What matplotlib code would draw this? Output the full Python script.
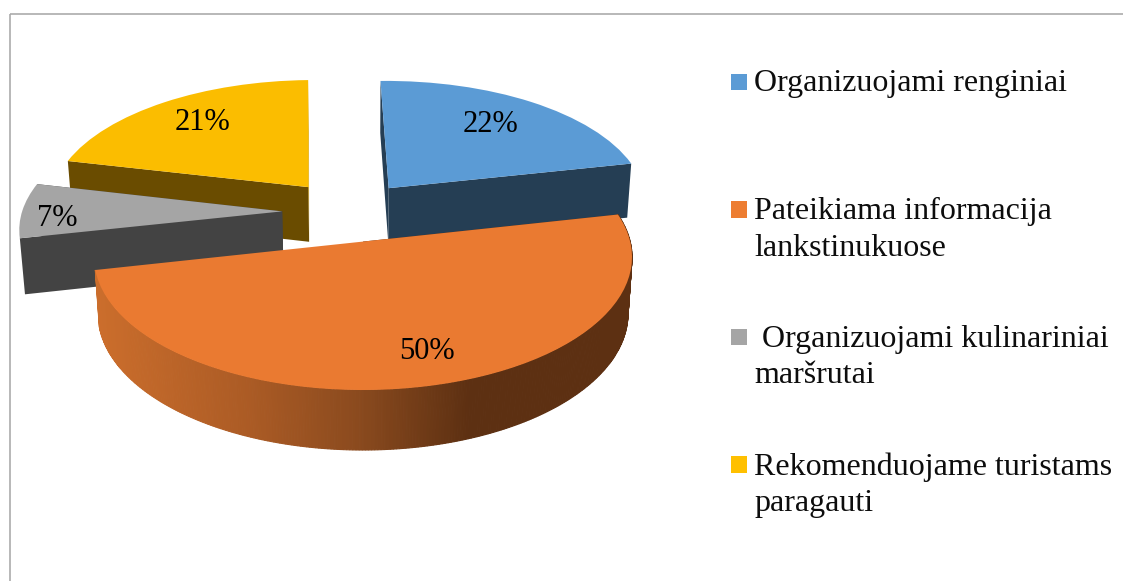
import numpy as np
import matplotlib
matplotlib.use("Agg")
import matplotlib.pyplot as plt
from matplotlib.patches import Polygon, Rectangle
from matplotlib.transforms import Affine2D, Transform
from matplotlib.colors import to_rgb

plt.rcParams['font.family'] = ['Liberation Serif', 'DejaVu Serif']

categories = ["Organizuojami renginiai",
              "Pateikiama informacija\nlankstinukuose",
              " Organizuojami kulinariniai\nmaršrutai",
              "Rekomenduojame turistams\nparagauti"]
shares = [22, 50, 7, 21]

top_colors = ['#5b9bd5', '#ea7a31', '#a5a5a5', '#fbbd00']
wall_colors = ['#253e54', '#5d3012', '#434343', '#6a4c00']
back_colors = ['#253e54', '#5d3012', '#434343', '#d9a400']
legend_colors = ['#5b9bd5', '#ed7d31', '#a5a5a5', '#ffc000']

# ellipse of the orange slice on the picture, and how far the disc is tipped
CX, CY, RX, RY = 363.0, 257.0, 269.0, 133.0
TILT = 0.116
explode = [0.245, 0.24, 0.26, 0.26]
START = 91.4
pct_dist = [0.734, 0.776, 0.86, 0.76]
pct_turn = [2.0, 4.2, 2.5, -2.0]
LABEL_DROP = 3
draw_order = [3, 0, 2, 1]

# orange side shading, left to right
shade_x = [94, 250, 360, 470, 632]
shade_c = ['#cc6e2c', '#ab5b25', '#8a4a1e', '#5d3012', '#5d3012']


def plane_to_px(pts, shift):
    pts = np.asarray(pts, dtype=float) - shift
    den = 1 + TILT * pts[:, 1]
    u = pts[:, 0] * np.sqrt(1 - TILT ** 2) / den
    v = (pts[:, 1] + TILT) / den
    return np.column_stack([CX + RX * u, CY - RY * v])


def drop(px):
    # top face to bottom face: straight down, a bit more near the viewer
    out = px.copy()
    out[:, 0] = CX + (px[:, 0] - CX) * 0.985
    out[:, 1] = px[:, 1] + 54 + (px[:, 1] - 161) * 0.0262
    return out


class PlaneToPx(Transform):
    input_dims = 2
    output_dims = 2
    is_separable = False
    has_inverse = False

    def __init__(self, shift):
        super().__init__()
        self.shift = shift

    def transform_non_affine(self, values):
        return plane_to_px(values, self.shift)


def arc_points(w, n=300):
    t = np.radians(np.linspace(w.theta1, w.theta2, n))
    return np.column_stack([w.center[0] + w.r * np.cos(t), w.center[1] + w.r * np.sin(t)])


def side(a, b):
    return np.vstack([a, drop(b)[::-1]])


def main():
    fig = plt.figure(figsize=(11.23, 5.81), dpi=100)
    ax = fig.add_axes([0, 0, 1, 1])
    wedges, _, autotexts = ax.pie(shares, explode=explode, startangle=START,
                                  counterclock=False, colors=top_colors,
                                  autopct=lambda p: '%d%%' % round(p),
                                  wedgeprops={'linewidth': 0},
                                  textprops={'fontsize': 22})
    ax.set_aspect('auto')
    ax.set_xlim(0, 1123)
    ax.set_ylim(581, 0)
    ax.axis('off')

    shift = np.array(wedges[1].center)
    to_px = PlaneToPx(shift)

    for z, i in enumerate(draw_order):
        w = wedges[i]
        base = 2 + 2 * z
        c = np.array(w.center)
        arc = plane_to_px(arc_points(w), shift)
        apex = plane_to_px(c[None, :], shift)
        # the cut faces run from the apex to each end of the arc, far one first
        ends = sorted([arc[-1:], arc[:1]], key=lambda e: e[0, 1])
        far = np.vstack([apex, ends[0]])
        near = np.vstack([apex, ends[1]])
        ax.add_patch(Polygon(side(far, far), fc=back_colors[i], ec='none', zorder=base))
        if i == 1:
            low = np.array([to_rgb(s) for s in shade_c])
            for k in range(len(arc) - 1):
                seg = arc[k:k + 2]
                mx = seg[:, 0].mean()
                col = [np.interp(mx, shade_x, low[:, j]) for j in range(3)]
                ax.add_patch(Polygon(side(seg, seg), fc=col, ec=col, lw=0.8, zorder=base))
        else:
            ax.add_patch(Polygon(side(near, near), fc=wall_colors[i], ec='none', zorder=base))
        w.set_transform(to_px + ax.transData)
        w.set_zorder(base + 1)

    for i, t in enumerate(autotexts):
        w = wedges[i]
        mid = np.radians((w.theta1 + w.theta2) / 2 + pct_turn[i])
        t.set_position((w.center[0] + pct_dist[i] * np.cos(mid), w.center[1] + pct_dist[i] * np.sin(mid)))
        t.set_transform(to_px + Affine2D().translate(0, LABEL_DROP) + ax.transData)
        t.set_zorder(30)

    # legend slots are evenly spaced, as in the spreadsheet chart
    for i, label in enumerate(categories):
        y = 81.5 + i * 127.6
        ax.add_patch(Rectangle((731, y - 8), 16, 16.5, fc=legend_colors[i], ec='none'))
        ax.text(754, y - 12, label, fontsize=23, va='top', ha='left', color='#0d0d0d',
                linespacing=1.34)

    ax.add_patch(Rectangle((9.5, 14), 1130, 600, fc='none', ec='#ababab', lw=1.2, clip_on=False))
    fig.savefig('out.png', dpi=100)


if __name__ == "__main__":
    main()
